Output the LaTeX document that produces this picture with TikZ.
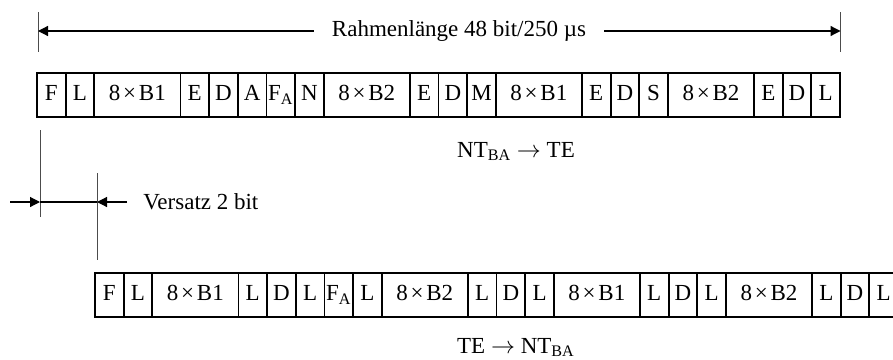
\documentclass[tikz,border=0pt]{standalone}
\usepackage{fontspec}
\setmainfont{Liberation Serif}
\usetikzlibrary{arrows.meta, positioning}

\newcommand{\nx}{\hspace{0.12em}×\hspace{0.12em}}

\begin{document}
\begin{tikzpicture}[x=0.5pt, y=-0.5pt, font=\fontsize{11.5pt}{14pt}\selectfont,
    cell/.style={draw, line width=0.9pt, minimum height=21.75pt, inner sep=0pt, outer sep=0pt,
      text height=8pt, text depth=2.5pt},
    dim/.style={-{Triangle[length=5pt, width=5pt]}, line width=0.6pt},
    tick/.style={draw=black!70, line width=0.5pt},
    lbl/.style={inner sep=0pt, anchor=base}]
    \useasboundingbox (0,0) rectangle (893,359);
    % Rahmen NT -> TE
    \coordinate (a0) at (37,95);
    \foreach \lab/\w [count=\i, remember=\i as \j (initially 0)] in
      {F/1,L/1,8\nx B1/3,E/1,D/1,A/1,F\textsubscript{A}/1,N/1,8\nx B2/3,E/1,D/1,M/1,
       8\nx B1/3,E/1,D/1,S/1,8\nx B2/3,E/1,D/1,L/1}
      \node[cell, minimum width=\w*14.34pt, right=0pt of a\j] (a\i) {\lab};
    \node[lbl] (down) at (516,157) {NT\textsubscript{BA} $\rightarrow$ TE};
    % Rahmen TE -> NT
    \coordinate (b0) at (95,295);
    \foreach \lab/\w [count=\i, remember=\i as \j (initially 0)] in
      {F/1,L/1,8\nx B1/3,L/1,D/1,L/1,F\textsubscript{A}/1,L/1,8\nx B2/3,L/1,D/1,L/1,
       8\nx B1/3,L/1,D/1,L/1,8\nx B2/3,L/1,D/1,L/1}
      \node[cell, minimum width=\w*14.34pt, right=0pt of b\j] (b\i) {\lab};
    \node[lbl] (up) at (516,353) {TE $\rightarrow$ NT\textsubscript{BA}};
    % Rahmenlaenge
    \draw[tick] (38,12) -- (38,52);
    \draw[tick] (840.5,12) -- (840.5,52);
    \coordinate (lenL) at (38,31);
    \coordinate (lenR) at (840.5,31);
    \node[inner ysep=0pt, inner xsep=9pt] (len) at (459,31) {Rahmenlänge 48 bit/250 µs};
    \draw[dim] (len) -- (lenL);
    \draw[dim] (len) -- (lenR);
    % Versatz
    \draw[tick] (40,130) -- (40,217);
    \draw[tick] (97,173) -- (97,260);
    \coordinate (vL) at (40,202);
    \coordinate (vR) at (97,202);
    \coordinate (vIn) at (10,202);
    \node[inner ysep=0pt, inner xsep=8pt, right=15pt of vR] (ofs) {Versatz 2 bit};
    \draw[line width=0.6pt] (vL) -- (vR);
    \draw[dim] (vIn) -- (vL);
    \draw[dim] (ofs) -- (vR);
\end{tikzpicture}
\end{document}
